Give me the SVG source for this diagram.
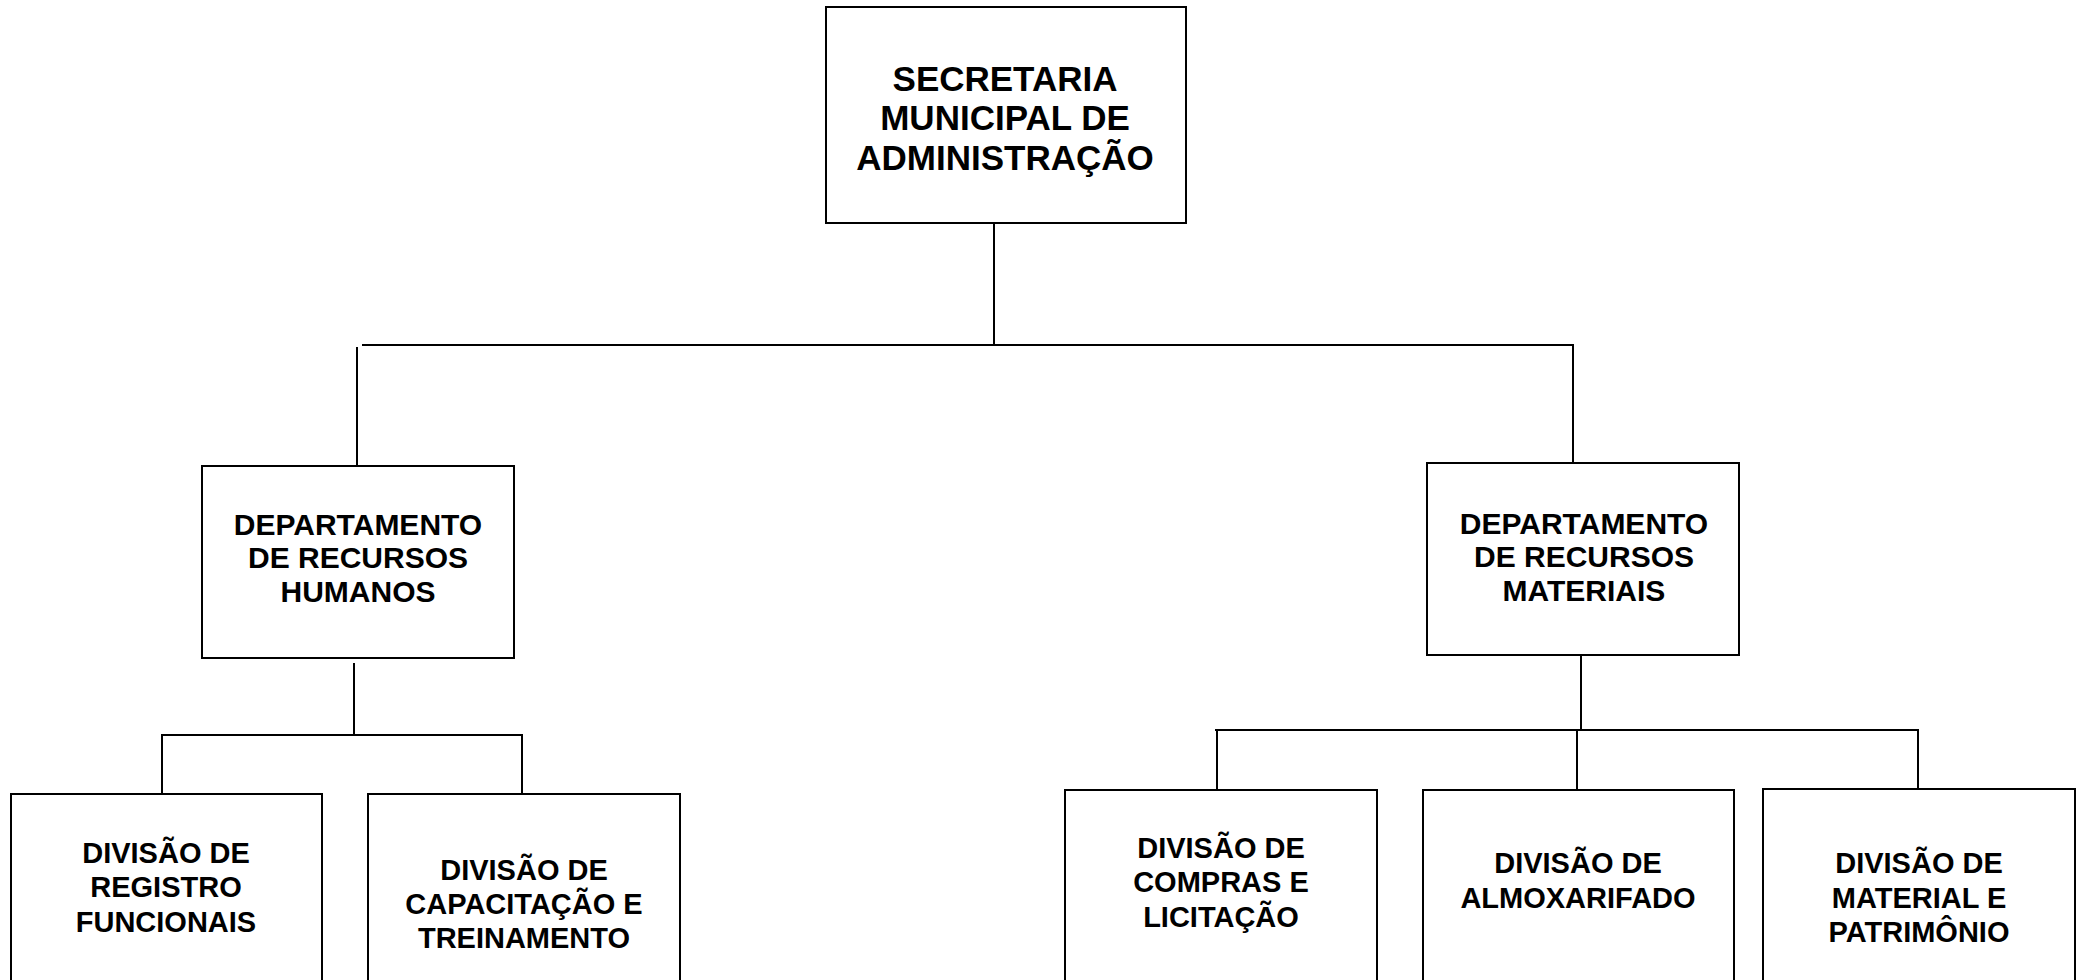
<svg xmlns="http://www.w3.org/2000/svg" width="2082" height="980" viewBox="0 0 2082 980">
<style>
.box{fill:#fff;stroke:#000;stroke-width:2}
.ln{stroke:#000;stroke-width:2;fill:none}
.t{font-family:"Liberation Sans",Arial,sans-serif;font-weight:bold;font-size:29px;text-anchor:middle;fill:#000}
.tt{font-size:35px}
.td{font-size:30px}
</style>
<rect width="2082" height="980" fill="#fff"/>
<g id="connectors">
<line class="ln" x1="994" y1="223" x2="994" y2="345"/>
<line class="ln" x1="362" y1="345" x2="1574" y2="345"/>
<line class="ln" x1="357" y1="347" x2="357" y2="466"/>
<line class="ln" x1="1573" y1="345" x2="1573" y2="463"/>
<line class="ln" x1="354" y1="663" x2="354" y2="735"/>
<line class="ln" x1="162" y1="735" x2="522" y2="735"/>
<line class="ln" x1="162" y1="734" x2="162" y2="794"/>
<line class="ln" x1="522" y1="734" x2="522" y2="794"/>
<line class="ln" x1="1581" y1="655" x2="1581" y2="730"/>
<line class="ln" x1="1215" y1="730" x2="1919" y2="730"/>
<line class="ln" x1="1217" y1="730" x2="1217" y2="790"/>
<line class="ln" x1="1577" y1="730" x2="1577" y2="790"/>
<line class="ln" x1="1918" y1="729" x2="1918" y2="789"/>
</g>
<g id="secretaria">
<rect class="box" x="826" y="7" width="360" height="216"/>
<text class="t tt" x="1005" y="91">SECRETARIA</text>
<text class="t tt" x="1005" y="130">MUNICIPAL DE</text>
<text class="t tt" x="1005" y="170">ADMINISTRAÇÃO</text>
</g>
<g id="dep-rh">
<rect class="box" x="202" y="466" width="312" height="192"/>
<text class="t td" x="358" y="535">DEPARTAMENTO</text>
<text class="t td" x="358" y="568">DE RECURSOS</text>
<text class="t td" x="358" y="602">HUMANOS</text>
</g>
<g id="dep-rm">
<rect class="box" x="1427" y="463" width="312" height="192"/>
<text class="t td" x="1584" y="534">DEPARTAMENTO</text>
<text class="t td" x="1584" y="567">DE RECURSOS</text>
<text class="t td" x="1584" y="601">MATERIAIS</text>
</g>
<g id="div-registro">
<rect class="box" x="11" y="794" width="311" height="220"/>
<text class="t" x="166" y="863">DIVISÃO DE</text>
<text class="t" x="166" y="897">REGISTRO</text>
<text class="t" x="166" y="932">FUNCIONAIS</text>
</g>
<g id="div-capacitacao">
<rect class="box" x="368" y="794" width="312" height="220"/>
<text class="t" x="524" y="880">DIVISÃO DE</text>
<text class="t" x="524" y="914">CAPACITAÇÃO E</text>
<text class="t" x="524" y="948">TREINAMENTO</text>
</g>
<g id="div-compras">
<rect class="box" x="1065" y="790" width="312" height="220"/>
<text class="t" x="1221" y="858">DIVISÃO DE</text>
<text class="t" x="1221" y="892">COMPRAS E</text>
<text class="t" x="1221" y="927">LICITAÇÃO</text>
</g>
<g id="div-almox">
<rect class="box" x="1423" y="790" width="311" height="220"/>
<text class="t" x="1578" y="873">DIVISÃO DE</text>
<text class="t" x="1578" y="908">ALMOXARIFADO</text>
</g>
<g id="div-material">
<rect class="box" x="1763" y="789" width="312" height="221"/>
<text class="t" x="1919" y="873">DIVISÃO DE</text>
<text class="t" x="1919" y="908">MATERIAL E</text>
<text class="t" x="1919" y="942">PATRIMÔNIO</text>
</g>
</svg>
